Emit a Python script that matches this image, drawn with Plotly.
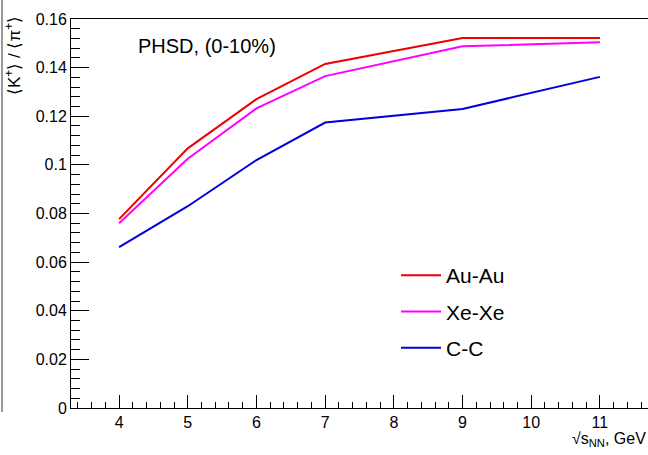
import plotly.graph_objects as go

energies = [4, 5, 6, 7, 9, 11]
au_au = [0.0777, 0.1068, 0.1270, 0.1415, 0.1522, 0.1522]
xe_xe = [0.0760, 0.1025, 0.1232, 0.1365, 0.1488, 0.1504]
c_c = [0.0662, 0.0830, 0.1020, 0.1174, 0.1230, 0.1362]
series_names = ["Au-Au", "Xe-Xe", "C-C"]
series_colors = ["#ee0000", "#ff00ff", "#0000dd"]
x_ticks = [4, 5, 6, 7, 8, 9, 10, 11]
y_ticks = [0, 0.02, 0.04, 0.06, 0.08, 0.1, 0.12, 0.14, 0.16]
y_tick_labels = ["0", "0.02", "0.04", "0.06", "0.08", "0.1", "0.12", "0.14", "0.16"]

L, R, T, B = 71, 0, 19, 47
W, H = 648, 455
pw, ph = W - L - R, H - T - B

def px(xp):
    return (xp - L) / pw

def py(yp):
    return 1 - (yp - T) / ph

fig = go.Figure()
for i, (name, vals, col) in enumerate(zip(series_names, [au_au, xe_xe, c_c], series_colors)):
    fig.add_trace(go.Scatter(x=energies, y=vals, mode="lines", name=name,
                             line=dict(color=col, width=2), legendgroup=name))

font_family = "Liberation Sans, Arial, sans-serif"
fig.update_layout(
    width=W, height=H,
    margin=dict(l=L, r=R, t=T, b=B, pad=0),
    paper_bgcolor="white", plot_bgcolor="white",
    font=dict(family=font_family, color="black", size=16),
    showlegend=True,
    legend=dict(x=px(396), y=py(255), xanchor="left", yanchor="top",
                font=dict(size=21), bgcolor="rgba(0,0,0,0)",
                tracegroupgap=6, itemwidth=40),
    xaxis=dict(range=[3.3, 11.7], tickvals=x_ticks, ticks="inside", ticklen=13,
               tickcolor="black", showline=True, linecolor="black", linewidth=1,
               mirror=True, showgrid=False, zeroline=False,
               tickfont=dict(size=16),
               minor=dict(dtick=0.2, ticks="inside", ticklen=6, tickcolor="black", showgrid=False)),
    yaxis=dict(range=[0, 0.16], tickvals=y_ticks, ticktext=y_tick_labels, ticks="inside",
               ticklen=18, tickcolor="black", showline=True, linecolor="black", linewidth=1,
               showgrid=False, zeroline=False, tickfont=dict(size=16),
               minor=dict(dtick=0.004, ticks="inside", ticklen=9, tickcolor="black", showgrid=False)),
)

fig.add_annotation(text="PHSD, (0-10%)", x=px(136), y=py(46), xref="paper", yref="paper",
                   xanchor="left", yanchor="middle", showarrow=False, font=dict(size=20))
fig.add_annotation(text="⟨K<sup>+</sup>⟩ / ⟨π<sup>+</sup>⟩", x=px(13), y=py(56), xref="paper", yref="paper",
                   xanchor="center", yanchor="middle", textangle=-90, showarrow=False,
                   font=dict(size=17))
fig.add_annotation(text="√s<sub>NN</sub>, GeV", x=1, y=py(440), xref="paper", yref="paper",
                   xanchor="right", yanchor="middle", showarrow=False, font=dict(size=16))
fig.add_shape(type="line", xref="paper", yref="paper", x0=px(2), x1=px(2), y0=py(0), y1=py(412),
              line=dict(color="#777777", width=1.5))

fig.write_html("out.html")
